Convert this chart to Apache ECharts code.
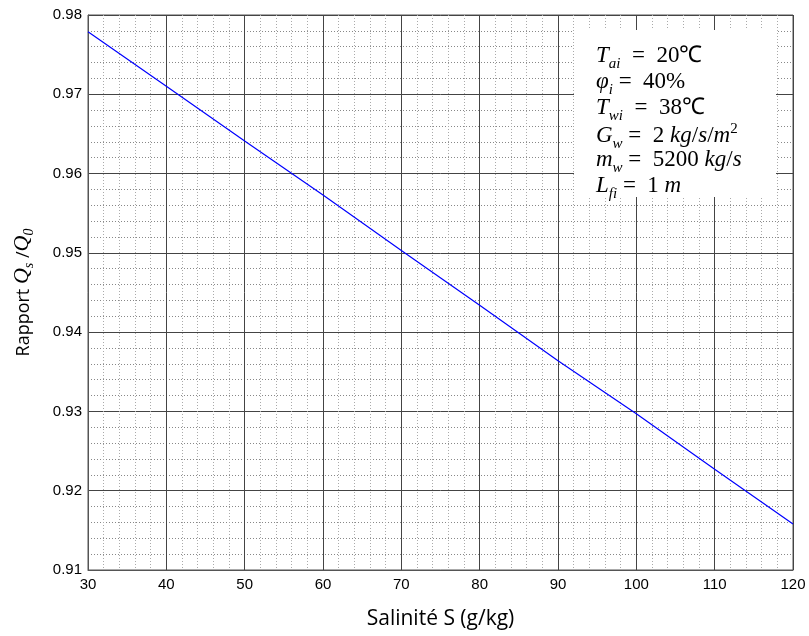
<!DOCTYPE html>
<html>
<head>
<meta charset="utf-8">
<script src="https://cdn.jsdelivr.net/npm/echarts@6/dist/echarts.min.js"></script>
<style>
  html, body { margin: 0; padding: 0; background: #fff; }
  #chart { width: 809px; height: 636px; }
</style>
</head>
<body>
<div id="chart"></div>
<script>
// Salinity (g/kg) and heat ratio Qs/Q0
const salinity = [30, 40, 50, 60, 70, 80, 90, 100, 110, 120];
const ratio = [0.9779, 0.9710, 0.9641, 0.9573, 0.9503, 0.9434, 0.9364, 0.9297, 0.9227, 0.9158];

// Axis ticks
const xTicks = [30, 40, 50, 60, 70, 80, 90, 100, 110, 120];
const yTicks = ['0.91', '0.92', '0.93', '0.94', '0.95', '0.96', '0.97', '0.98'];

// Operating conditions listed in the inset box (rich-text markup)
const conditions = [
  '{v|T}{s|ai}{n|  =  20℃}',
  '{v|φ}{s|i}{n| =  40%}',
  '{v|T}{s|wi}{n|  =  38℃}',
  '{v|G}{s|w}{n| =  2 }{v|kg}{n|/}{v|s}{n|/}{v|m}{p|2}',
  '{v|m}{s|w}{n| =  5200 }{v|kg}{n|/}{v|s}',
  '{v|L}{s|fi}{n| =  1 }{v|m}'
];

const chart = echarts.init(document.getElementById('chart'));

const mathRich = {
  v: { fontFamily: 'Liberation Serif', fontStyle: 'italic', fontSize: 23, color: '#000', verticalAlign: 'bottom', padding: [0, 0, 5, 0] },
  n: { fontFamily: 'Liberation Serif', fontSize: 23, color: '#000', verticalAlign: 'bottom', padding: [0, 0, 5, 0] },
  s: { fontFamily: 'Liberation Serif', fontStyle: 'italic', fontSize: 15, color: '#000', verticalAlign: 'bottom', padding: [0, 0, 0, 0] },
  p: { fontFamily: 'Liberation Serif', fontSize: 15, color: '#000', verticalAlign: 'bottom', padding: [0, 0, 15, 0] }
};

const boxTexts = conditions.map((c, i) => ({
  type: 'text',
  left: 596,
  top: 44 + i * 26,
  z: 101,
  style: { text: c, rich: mathRich }
}));

const option = {
  animation: false,
  backgroundColor: '#fff',
  grid: {
    left: 88, right: 16, top: 15, bottom: 66,
    outerBoundsMode: 'none',
    containLabel: false,
    show: true, borderColor: '#555', borderWidth: 1
  },
  xAxis: {
    type: 'value',
    min: xTicks[0], max: xTicks[xTicks.length - 1], interval: 10,
    name: 'Salinité S (g/kg)',
    nameLocation: 'middle', nameGap: 39,
    nameTextStyle: { fontFamily: 'Open Sans', fontSize: 21, color: '#000' },
    axisLine: { show: true, lineStyle: { color: '#555' } },
    axisTick: { show: false },
    axisLabel: { fontFamily: 'Liberation Sans', fontSize: 15, color: '#000', margin: 7 },
    splitLine: { show: true, lineStyle: { color: '#444', width: 1 } },
    minorTick: { show: false, splitNumber: 5 },
    minorSplitLine: { show: true, lineStyle: { color: '#aaa', width: 1, type: [1, 2] } }
  },
  yAxis: {
    type: 'value',
    min: 0.91, max: 0.98, interval: 0.01,
    name: '{n|Rapport }{q|Q}{s|s}{n| /}{q|Q}{s|0}',
    nameLocation: 'middle', nameGap: 52, nameRotate: 90,
    nameTextStyle: {
      rich: {
        n: { fontFamily: 'Open Sans', fontSize: 18, color: '#000', verticalAlign: 'bottom', padding: [0, 0, 3, 0] },
        q: { fontFamily: 'Liberation Serif', fontStyle: 'italic', fontSize: 22, color: '#000', verticalAlign: 'bottom', padding: [0, 0, 3, 0] },
        s: { fontFamily: 'Liberation Serif', fontStyle: 'italic', fontSize: 14, color: '#000', verticalAlign: 'bottom' }
      }
    },
    axisLine: { show: true, lineStyle: { color: '#555' } },
    axisTick: { show: false },
    axisLabel: {
      fontFamily: 'Liberation Sans', fontSize: 15, color: '#000', margin: 6,
      formatter: v => yTicks.find(t => Math.abs(parseFloat(t) - v) < 1e-6) || v.toFixed(2)
    },
    splitLine: { show: true, lineStyle: { color: '#444', width: 1 } },
    minorTick: { show: false, splitNumber: 5 },
    minorSplitLine: { show: true, lineStyle: { color: '#888', width: 1, type: [1, 2] } }
  },
  series: [{
    type: 'line',
    data: salinity.map((s, i) => [s, ratio[i]]),
    showSymbol: false,
    lineStyle: { color: '#0000ff', width: 1.2 },
    z: 5
  }],
  graphic: [
    {
      type: 'rect',
      shape: { x: 574, y: 30, width: 202, height: 167 },
      style: { fill: '#fff' },
      z: 100
    }
  ].concat(boxTexts)
};

chart.setOption(option);
</script>
</body>
</html>
